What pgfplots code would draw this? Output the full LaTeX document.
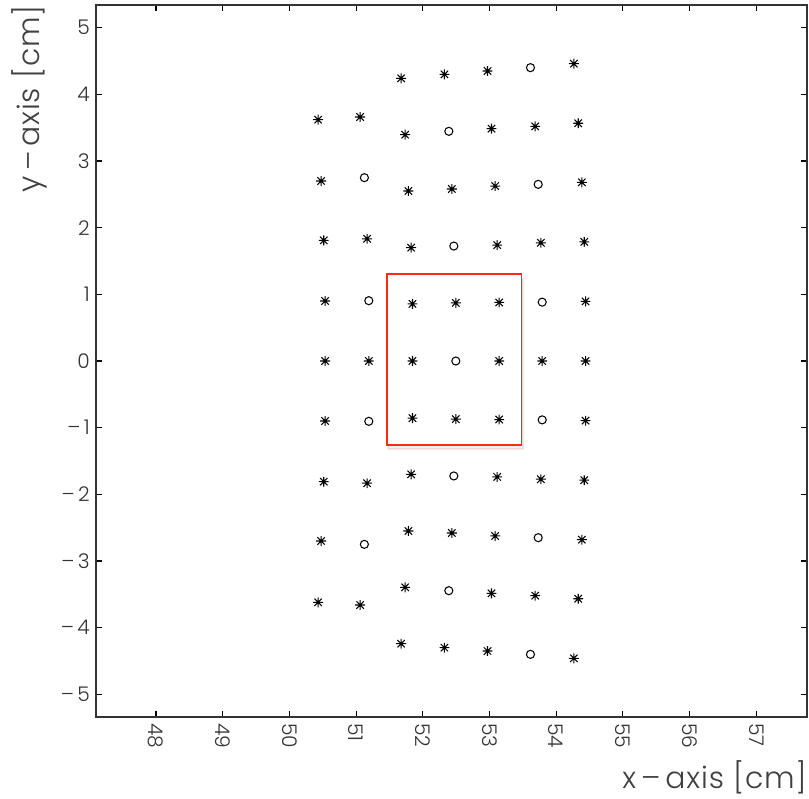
\documentclass[border=0pt]{standalone}
\usepackage{pgfplots}
\pgfplotsset{compat=1.18}
\usepackage{fontspec}
\setmainfont{Poppins}[UprightFont=* Light]
\usetikzlibrary{shadows}
\definecolor{boxred}{RGB}{255,45,15}
\pgfdeclareplotmark{starx}{%
  \pgfpathmoveto{\pgfqpoint{-\pgfplotmarksize}{0pt}}\pgfpathlineto{\pgfqpoint{\pgfplotmarksize}{0pt}}%
  \pgfpathmoveto{\pgfqpoint{0pt}{-\pgfplotmarksize}}\pgfpathlineto{\pgfqpoint{0pt}{\pgfplotmarksize}}%
  \pgfpathmoveto{\pgfqpoint{-0.75\pgfplotmarksize}{-0.75\pgfplotmarksize}}\pgfpathlineto{\pgfqpoint{0.75\pgfplotmarksize}{0.75\pgfplotmarksize}}%
  \pgfpathmoveto{\pgfqpoint{-0.75\pgfplotmarksize}{0.75\pgfplotmarksize}}\pgfpathlineto{\pgfqpoint{0.75\pgfplotmarksize}{-0.75\pgfplotmarksize}}%
  \pgfusepathqstroke}
\pgfplotstableread{
x y
51.675 4.24
52.324 4.30
52.970 4.35
54.265 4.46
50.430 3.62
51.060 3.66
51.735 3.395
53.030 3.485
53.685 3.52
54.330 3.566
50.475 2.70
51.784 2.55
52.435 2.58
53.085 2.624
54.385 2.68
50.515 1.81
51.165 1.833
51.825 1.70
53.115 1.739
53.770 1.773
54.420 1.788
50.535 0.90
51.845 0.857
52.495 0.872
53.145 0.878
54.440 0.895
50.535 0
51.190 0
51.845 0
53.145 0
53.790 0
54.440 0
50.535 -0.90
51.845 -0.857
52.495 -0.872
53.145 -0.878
54.440 -0.895
50.515 -1.81
51.165 -1.833
51.825 -1.70
53.115 -1.739
53.770 -1.773
54.420 -1.788
50.475 -2.70
51.784 -2.55
52.435 -2.58
53.085 -2.624
54.385 -2.68
50.430 -3.62
51.060 -3.66
51.735 -3.395
53.030 -3.485
53.685 -3.52
54.330 -3.566
51.675 -4.24
52.324 -4.30
52.970 -4.35
54.265 -4.46
}\stars
\pgfplotstableread{
x y
53.614 4.40
52.390 3.445
51.124 2.75
53.730 2.65
52.465 1.724
51.190 0.905
53.790 0.883
52.495 0
51.190 -0.905
53.790 -0.883
52.465 -1.724
51.124 -2.75
53.730 -2.65
52.390 -3.445
53.614 -4.40
}\circles
\begin{document}
\begin{tikzpicture}
\begin{axis}[
  scale only axis, width=14.22cm, height=14.24cm,
  xmin=47.1, xmax=57.76, ymin=-5.34, ymax=5.34,
  xtick={48,...,57}, ytick={-5,...,5},
  yticklabels={–\,5,–\,4,–\,3,–\,2,–\,1,0,1,2,3,4,5},
  /pgf/number format/assume math mode=true,
  xticklabel style={rotate=-90, anchor=west},
  tick align=inside, major tick length=0.12cm,
  axis line style={black!80, line width=0.6pt},
  tick style={black, line width=0.6pt},
  ticklabel style={font=\fontsize{11.5}{13}\selectfont, text=black!80},
  xlabel={x\,–\,axis [cm]}, ylabel={y\,–\,axis [cm]},
  label style={font=\fontsize{17}{20}\addfontfeatures{LetterSpace=3}\selectfont, text=black!75, inner sep=0pt},
  xlabel style={at={(axis description cs:1,-0.108)}, anchor=south east},
  ylabel style={at={(axis description cs:-0.0675,1)}, anchor=south east},
]
\addplot[draw=boxred, line width=1.1pt, fill=white,
  drop shadow={shadow xshift=0.6pt, shadow yshift=-2.5pt, opacity=0.12}]
  coordinates {(51.46,-1.254) (53.48,-1.254) (53.48,1.303) (51.46,1.303)} -- cycle;
\addplot[only marks, mark=starx, mark size=2.8pt, line width=0.6pt, black] table {\stars};
\addplot[only marks, mark=o, mark size=2.3pt, line width=0.6pt, black] table {\circles};
\end{axis}
\path ([xshift=-1.92cm, yshift=-1.62cm]current axis.south west) rectangle ([xshift=0.04cm, yshift=0.1cm]current axis.north east);
\end{tikzpicture}
\end{document}
